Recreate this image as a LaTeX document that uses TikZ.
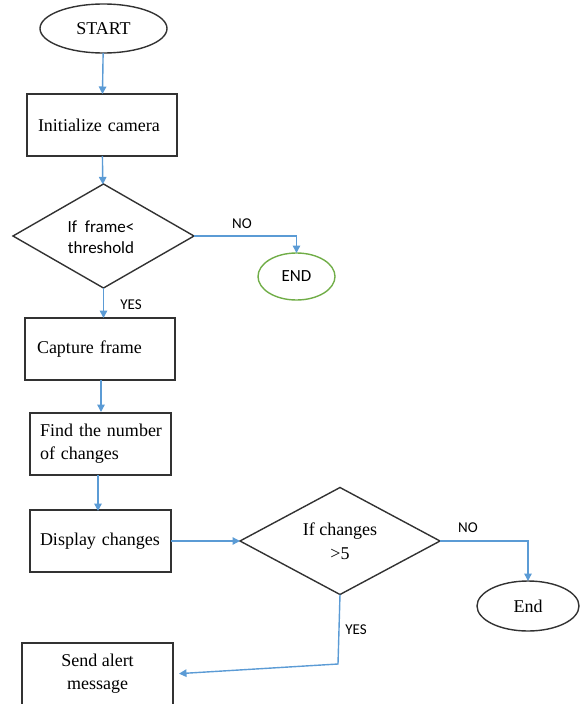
\documentclass[tikz,border=0pt]{standalone}
\usepackage{fontspec}
\setmainfont{Liberation Serif}
\newfontfamily\labelfont{Carlito}
\usetikzlibrary{shapes.geometric,arrows.meta}
\definecolor{flowblue}{RGB}{91,155,213}
\definecolor{flowgreen}{RGB}{112,173,71}
\definecolor{edgegrey}{RGB}{50,50,50}
% keep box labels unbroken
\hyphenpenalty=10000
\exhyphenpenalty=10000
\begin{document}
\begin{tikzpicture}[x=1pt,y=-1pt,
  every node/.style={inner sep=0pt,outer sep=0pt},
  terminal/.style={ellipse,draw=edgegrey,line width=1.4pt,font=\fontsize{18}{22}\selectfont},
  stepbox/.style={rectangle,draw=edgegrey,line width=1.5pt,minimum height=62pt,
    font=\fontsize{18}{23}\selectfont},
  decision/.style={diamond,draw=edgegrey,line width=1.4pt},
  flow/.style={draw=flowblue,line width=1.4pt,-{Triangle[length=7.5pt,width=7.5pt]}},
  tag/.style={font=\labelfont\fontsize{15}{18}\selectfont}]
\useasboundingbox (0,0) rectangle (580,704);

% start and the camera set-up
\node[terminal,minimum width=127pt,minimum height=49pt] (start) at (103.5,28.5) {START};
\node[stepbox,minimum width=150pt,text width=128pt,align=left,inner xsep=11pt] (init) at (102,125) {Initialize camera};

% first decision
\node[decision,minimum width=181pt,minimum height=104pt] (dia1) at (103.5,236) {};
\node[font=\labelfont\fontsize{17}{21}\selectfont,align=center] (dia1txt) at (101,237.5) {If\ \ frame<\\threshold};
\node[ellipse,draw=flowgreen,line width=1.4pt,minimum width=77pt,minimum height=47pt,
  font=\labelfont\fontsize{17}{20}\selectfont] (end1) at (296.5,276.5) {END};

% processing steps
\node[stepbox,minimum width=150pt,text width=126pt,align=left,inner xsep=12pt] (capture) at (100,349) {Capture frame};
\node[stepbox,minimum width=141pt,text width=121pt,align=left,inner xsep=10pt] (find) at (100.5,444) {\mbox{Find the number}\\of changes};
\node[stepbox,minimum width=141pt,text width=121pt,align=left,inner xsep=10pt] (display) at (100.5,541) {Display changes};

% second decision
\node[decision,minimum width=200pt,minimum height=107pt] (dia2) at (340,541) {};
\node[font=\fontsize{18}{24}\selectfont,align=center] (dia2txt) at (340,541) {If changes\\>5};
\node[terminal,minimum width=102pt,minimum height=50pt] (end2) at (528,606) {End};
\node[stepbox,minimum width=151pt,align=center] (send) at (97.5,674) {Send alert\\message};

% branch labels
\node[tag] (no1) at (242,224) {NO};
\node[tag] (yes1) at (131,305) {YES};
\node[tag] (no2) at (468,528) {NO};
\node[tag] (yes2) at (356,630) {YES};

% connectors
\draw[flow] (start) -- (init);
\draw[flow] (init) -- (dia1);
\draw[flow] (dia1.east) -| (end1.north);
\draw[flow] (dia1.south) -- (dia1.south |- capture.north);
\draw[flow] (capture.south) ++(1,0) -- ++(0,32);
\draw[flow] (find.south) ++(-2.5,0) -- ++(0,36);
\draw[flow] (display.east) -- (dia2.west);
\draw[flow] (dia2.east) -| (end2.north);
\coordinate (turn) at (338,664);
\draw[flow,shorten >=6pt] (dia2.south) -- (turn) -- (send.east);
\end{tikzpicture}
\end{document}
